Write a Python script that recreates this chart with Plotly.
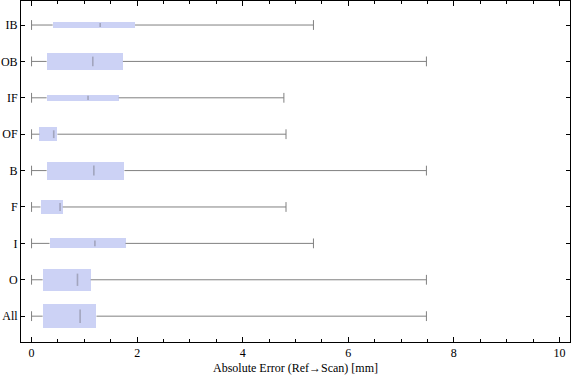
import plotly.graph_objects as go

categories = ["IB", "OB", "IF", "OF", "B", "F", "I", "O", "All"]
lower = [0.0, 0.0, 0.0, 0.0, 0.0, 0.0, 0.0, 0.0, 0.0]
q1 = [0.40, 0.285, 0.285, 0.15, 0.285, 0.17, 0.34, 0.21, 0.21]
median = [1.30, 1.16, 1.07, 0.42, 1.18, 0.54, 1.20, 0.87, 0.92]
q3 = [1.96, 1.73, 1.65, 0.49, 1.76, 0.59, 1.78, 1.12, 1.23]
upper = [5.34, 7.48, 4.78, 4.82, 7.48, 4.82, 5.34, 7.48, 7.48]
box_width = [0.19, 0.47, 0.16, 0.38, 0.49, 0.40, 0.27, 0.60, 0.66]

order = list(reversed(categories))
px_per_unit = 36.5

fig = go.Figure()

# boxes
fig.add_trace(go.Bar(
    y=categories, x=[b - a for a, b in zip(q1, q3)], base=q1,
    width=box_width, orientation="h",
    marker=dict(color="rgb(204,210,245)", line=dict(width=0)),
    showlegend=False, hoverinfo="skip"))

# whiskers
wx, wy = [], []
for c, lo, a, b, hi in zip(categories, lower, q1, q3, upper):
    wx += [lo, a, None, b, hi, None]
    wy += [c, c, None, c, c, None]
fig.add_trace(go.Scatter(x=wx, y=wy, mode="lines",
                         line=dict(color="rgb(128,128,128)", width=1),
                         showlegend=False, hoverinfo="skip"))

# caps
fig.add_trace(go.Scatter(x=lower + upper, y=categories + categories, mode="markers",
                         marker=dict(symbol="line-ns", size=7,
                                     line=dict(color="rgb(128,128,128)", width=1)),
                         showlegend=False, hoverinfo="skip"))

# medians
fig.add_trace(go.Scatter(x=median, y=categories, mode="markers",
                         marker=dict(symbol="line-ns",
                                     size=[max(3, 0.4 * w * px_per_unit) for w in box_width],
                                     line=dict(color="rgba(125,125,140,0.75)", width=1.6)),
                         showlegend=False, hoverinfo="skip"))

axis_common = dict(showline=True, linecolor="black", linewidth=1, mirror="ticks",
                   ticks="inside", tickcolor="black", showgrid=False, zeroline=False,
                   automargin=False)

fig.update_layout(
    width=576, height=381,
    margin=dict(l=21, r=6, t=1, b=39, autoexpand=False),
    plot_bgcolor="white", paper_bgcolor="white",
    font=dict(family="Liberation Serif", size=12, color="black"),
    bargap=0,
    xaxis=dict(range=[-0.2, 10.2], tickvals=[0, 2, 4, 6, 8, 10], ticklen=5,
               minor=dict(dtick=0.5, ticklen=3, ticks="inside", tickcolor="black"),
               title=dict(text="Absolute Error (Ref\u2192Scan) [mm]", standoff=4,
                          font=dict(size=12)),
               **axis_common),
    yaxis=dict(type="category", categoryorder="array", categoryarray=order,
               range=[-0.71, 8.66], ticklen=4, **axis_common),
)

fig.write_html("out.html", config={"displayModeBar": False},
               post_script="document.body.style.margin='0px';document.body.style.overflow='hidden';")
